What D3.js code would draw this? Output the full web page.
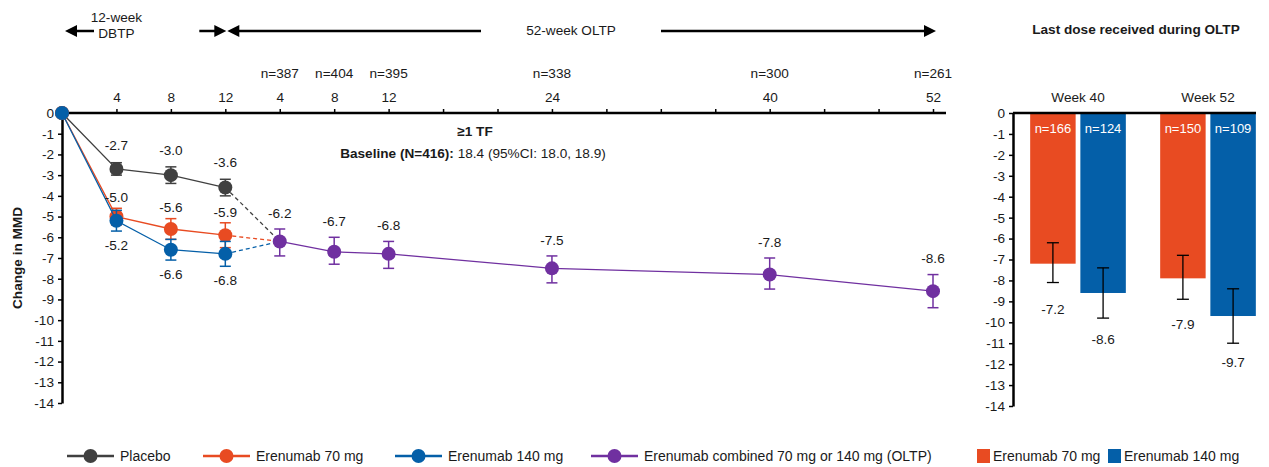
<!DOCTYPE html>
<html><head><meta charset="utf-8">
<script src="https://cdn.jsdelivr.net/npm/d3@7"></script>
<style>
body{margin:0;background:#fff;}
text{font-family:"Liberation Sans",Arial,sans-serif;fill:#1a1a1a;}
</style></head>
<body><svg id="c" width="1269" height="467"></svg>
<script>
// ---- data ----
const dbtpWeeks = [0, 4, 8, 12];
const placebo = [0, -2.7, -3.0, -3.6];
const placeboUpper = [null, -2.4, -2.6, -3.2];
const placeboLower = [null, -3.0, -3.4, -4.0];
const e70 = [0, -5.0, -5.6, -5.9];
const e70Upper = [null, -4.6, -5.1, -5.3];
const e70Lower = [null, -5.4, -6.1, -6.5];
const e140 = [0, -5.2, -6.6, -6.8];
const e140Upper = [null, -4.7, -6.1, -6.2];
const e140Lower = [null, -5.7, -7.1, -7.4];
const oltpWeeks = [4, 8, 12, 24, 40, 52];
const combined = [-6.2, -6.7, -6.8, -7.5, -7.8, -8.6];
const combinedUpper = [-5.6, -6.0, -6.2, -6.9, -7.0, -7.8];
const combinedLower = [-6.9, -7.3, -7.5, -8.2, -8.5, -9.4];
const oltpN = [387, 404, 395, 338, 300, 261];
const topTickWeeks = [4, 8, 12, 16, 20, 24, 36, 52, 64];
const topTickLabels = ["4", "8", "12", "4", "8", "12", "24", "40", "52"];
const yTicks = d3.range(0, -15, -1);

const barWeeks = ["Week 40", "Week 52"];
const barDoses = ["Erenumab 70 mg", "Erenumab 140 mg"];
const bar70 = [-7.2, -7.9];
const bar70Upper = [-6.2, -6.8];
const bar70Lower = [-8.1, -8.9];
const bar70N = [166, 150];
const bar140 = [-8.6, -9.7];
const bar140Upper = [-7.4, -8.4];
const bar140Lower = [-9.8, -11.0];
const bar140N = [124, 109];

const C = {placebo:"#404040", e70:"#E84B22", e140:"#045FA8", comb:"#7030A0"};
const FS = 13.6;
const LFS = 14;
const fmt1 = v => v.toFixed(1);
const fmt0 = v => String(v);

const svg = d3.select("#c");
const x = d3.scaleLinear().domain([0, 64]).range([62, 933]);
const y = d3.scaleLinear().domain([0, -14]).range([113, 403]);
const oltpX = w => x(12 + w);

// ---- header ----
const hdr = svg.append("g");
function arrowHead(g, xTip, yy, dir){
  g.append("path").attr("d", `M${xTip},${yy} L${xTip - dir*12},${yy-6} L${xTip - dir*12},${yy+6} Z`).attr("fill","#000");
}
const ay = 31;
hdr.append("line").attr("x1", x(0)+10).attr("x2", x(0)+32).attr("y1", ay).attr("y2", ay).attr("stroke","#000").attr("stroke-width",2.5);
arrowHead(hdr, x(0)+3, ay, -1);
hdr.append("line").attr("x1", x(12)-26).attr("x2", x(12)-8).attr("y1", ay).attr("y2", ay).attr("stroke","#000").attr("stroke-width",2.5);
arrowHead(hdr, x(12)+1, ay, 1);
hdr.append("line").attr("x1", x(12)+8).attr("x2", 481).attr("y1", ay).attr("y2", ay).attr("stroke","#000").attr("stroke-width",2.5);
arrowHead(hdr, x(12)+2, ay, -1);
hdr.append("line").attr("x1", 661).attr("x2", x(64)-5).attr("y1", ay).attr("y2", ay).attr("stroke","#000").attr("stroke-width",2.5);
arrowHead(hdr, x(64)+3, ay, 1);
hdr.append("text").attr("x", x(4)).attr("y", 22).attr("text-anchor","middle").attr("font-size",FS).text("12-week");
hdr.append("text").attr("x", x(4)).attr("y", 38).attr("text-anchor","middle").attr("font-size",FS).text("DBTP");
hdr.append("text").attr("x", 571).attr("y", 35).attr("text-anchor","middle").attr("font-size",FS).text("52-week OLTP");
hdr.append("text").attr("x", 1136).attr("y", 34).attr("text-anchor","middle").attr("font-size",FS).attr("font-weight","bold").text("Last dose received during OLTP");

// n labels
svg.append("g").selectAll("text").data(oltpWeeks).join("text")
  .attr("x", (d)=>oltpX(d)).attr("y", 78).attr("text-anchor","middle").attr("font-size",FS)
  .text((d,i)=>"n=" + oltpN[i]);

// ---- left axes ----
const xAxis = d3.axisTop(x).tickValues(d3.range(0, 65, 4)).tickSize(4).tickSizeOuter(0)
  .tickFormat(d => { const i = topTickWeeks.indexOf(d); return i >= 0 ? topTickLabels[i] : ""; });
const gx = svg.append("g").attr("transform", `translate(0,${y(0)})`).call(xAxis);
gx.select(".domain").remove();
gx.selectAll(".tick line").attr("stroke","#000").attr("stroke-width",1.5);
gx.selectAll(".tick text").attr("font-size",FS).attr("dy","-0.3em").attr("fill","#1a1a1a").attr("font-family","Liberation Sans, Arial, sans-serif");
svg.append("line").attr("x1", x(0)).attr("x2", x(64)+13).attr("y1", y(0)).attr("y2", y(0)).attr("stroke","#000").attr("stroke-width",2.5);

const yAxis = d3.axisLeft(y).tickValues(yTicks).tickSize(4).tickSizeOuter(0).tickFormat(fmt0);
const gy = svg.append("g").attr("transform", `translate(${x(0)},0)`).call(yAxis);
gy.select(".domain").attr("stroke","#000").attr("stroke-width",2.5);
gy.selectAll(".tick line").attr("stroke","#000").attr("stroke-width",1.5);
gy.selectAll(".tick text").attr("font-size",FS).attr("fill","#1a1a1a").attr("x",-8).attr("font-family","Liberation Sans, Arial, sans-serif");

svg.append("text").attr("transform", `translate(22,${(y(0)+y(-14))/2}) rotate(-90)`).attr("text-anchor","middle")
  .attr("font-size",FS).attr("font-weight","bold").text("Change in MMD");

// annotation
svg.append("text").attr("x", 475).attr("y", 136).attr("text-anchor","middle").attr("font-size",FS).attr("font-weight","bold").text("\u22651 TF");
const bt = svg.append("text").attr("x", 473).attr("y", 158).attr("text-anchor","middle").attr("font-size",FS);
bt.append("tspan").attr("font-weight","bold").text("Baseline (N=416):");
bt.append("tspan").text(" 18.4 (95%CI: 18.0, 18.9)");

// ---- series ----
const line = d3.line().x(d=>d[0]).y(d=>d[1]);
function series(xs, vals, up, lo, color){
  const g = svg.append("g");
  const pts = xs.map((xx,i)=>[xx, y(vals[i])]);
  g.append("path").attr("d", line(pts)).attr("fill","none").attr("stroke",color).attr("stroke-width",1.3);
  vals.forEach((v,i)=>{
    if (up[i] === null) return;
    const xx = xs[i];
    g.append("line").attr("x1",xx).attr("x2",xx).attr("y1",y(up[i])).attr("y2",y(lo[i])).attr("stroke",color).attr("stroke-width",1.5);
    [up[i], lo[i]].forEach(e=>g.append("line").attr("x1",xx-5.5).attr("x2",xx+5.5).attr("y1",y(e)).attr("y2",y(e)).attr("stroke",color).attr("stroke-width",1.5));
  });
  vals.forEach((v,i)=>{
    g.append("circle").attr("cx",xs[i]).attr("cy",y(v)).attr("r",7).attr("fill",color);
  });
  return g;
}
function labels(xs, vals, up, lo, pos, off){
  vals.forEach((v,i)=>{
    if (up[i] === null) return;
    const yy = pos === "above" ? y(up[i]) - off : y(lo[i]) + off;
    svg.append("text").attr("x", xs[i]).attr("y", yy).attr("dy","0.35em").attr("text-anchor","middle").attr("font-size",FS)
      .text(fmt1(v));
  });
}
const dbX = dbtpWeeks.map(w=>x(w));
const olX = oltpWeeks.map(oltpX);
[[placebo, C.placebo],[e70, C.e70],[e140, C.e140]].forEach(([s,c])=>{
  svg.append("line").attr("x1", x(12)).attr("y1", y(s[3])).attr("x2", olX[0]).attr("y2", y(combined[0]))
    .attr("stroke", c).attr("stroke-width",1.3).attr("stroke-dasharray","4,3");
});
series(dbX, placebo, placeboUpper, placeboLower, C.placebo);
series(dbX, e70, e70Upper, e70Lower, C.e70);
series(dbX, e140, e140Upper, e140Lower, C.e140);
series(olX, combined, combinedUpper, combinedLower, C.comb);
labels(dbX, placebo, placeboUpper, placeboLower, "above", 17);
labels(dbX, e70, e70Upper, e70Lower, "above", 11);
labels(dbX, e140, e140Upper, e140Lower, "below", 14);
labels(olX, combined, combinedUpper, combinedLower, "above", 16);

// ---- bar panel ----
const yR = d3.scaleLinear().domain([0, -14]).range([113, 406]);
const x0 = d3.scaleBand().domain(barWeeks).range([1013, 1273]).paddingInner(0).paddingOuter(0);
const x1 = d3.scaleBand().domain(barDoses).range([0, x0.bandwidth()]).paddingInner(0.094).paddingOuter(0.342);
const barData = [];
barWeeks.forEach((w,i)=>{
  barData.push({w, dose:barDoses[0], v:bar70[i], up:bar70Upper[i], lo:bar70Lower[i], n:bar70N[i], c:C.e70});
  barData.push({w, dose:barDoses[1], v:bar140[i], up:bar140Upper[i], lo:bar140Lower[i], n:bar140N[i], c:C.e140});
});
const bg = svg.append("g");
bg.selectAll("rect").data(barData).join("rect")
  .attr("x", d=>x0(d.w)+x1(d.dose)).attr("width", x1.bandwidth())
  .attr("y", yR(0)).attr("height", d=>yR(d.v)-yR(0)).attr("fill", d=>d.c);
barData.forEach(d=>{
  const cx = x0(d.w)+x1(d.dose)+x1.bandwidth()/2;
  bg.append("line").attr("x1",cx).attr("x2",cx).attr("y1",yR(d.up)).attr("y2",yR(d.lo)).attr("stroke","#000").attr("stroke-width",1.3);
  [d.up,d.lo].forEach(e=>bg.append("line").attr("x1",cx-6).attr("x2",cx+6).attr("y1",yR(e)).attr("y2",yR(e)).attr("stroke","#000").attr("stroke-width",1.3));
  bg.append("text").attr("x",cx).attr("y",yR(0)+15).attr("dy","0.35em").attr("text-anchor","middle").attr("font-size",13).style("fill","#fff").text("n="+d.n);
  bg.append("text").attr("x",cx).attr("y",yR(d.v)+46).attr("dy","0.35em").attr("text-anchor","middle").attr("font-size",FS).text(fmt1(d.v));
});
const yRAxis = d3.axisLeft(yR).tickValues(yTicks).tickSize(4).tickSizeOuter(0).tickFormat(fmt0);
const gyr = svg.append("g").attr("transform", `translate(1013,0)`).call(yRAxis);
gyr.select(".domain").attr("stroke","#000").attr("stroke-width",2.5);
gyr.selectAll(".tick line").attr("stroke","#000").attr("stroke-width",1.5);
gyr.selectAll(".tick text").attr("font-size",FS).attr("fill","#1a1a1a").attr("x",-8).attr("font-family","Liberation Sans, Arial, sans-serif");
svg.append("line").attr("x1",1013).attr("x2",1256).attr("y1",yR(0)).attr("y2",yR(0)).attr("stroke","#000").attr("stroke-width",2.5);
svg.append("g").selectAll("text").data(barWeeks).join("text")
  .attr("x", d=>x0(d)+x0.bandwidth()/2).attr("y", 102).attr("text-anchor","middle").attr("font-size",FS).text(d=>d);

// ---- legend ----
const legItems = [
  {label:"Placebo", c:C.placebo, x:67},
  {label:"Erenumab 70 mg", c:C.e70, x:203},
  {label:"Erenumab 140 mg", c:C.e140, x:395},
  {label:"Erenumab combined 70 mg or 140 mg (OLTP)", c:C.comb, x:591}
];
const ly = 456;
const lg = svg.append("g");
legItems.forEach(it=>{
  lg.append("line").attr("x1",it.x).attr("x2",it.x+47).attr("y1",ly).attr("y2",ly).attr("stroke",it.c).attr("stroke-width",2.5);
  lg.append("circle").attr("cx",it.x+23.5).attr("cy",ly).attr("r",7).attr("fill",it.c);
  lg.append("text").attr("x",it.x+53).attr("y",ly).attr("dy","0.35em").attr("font-size",LFS).text(it.label);
});
const barLeg = [{label:"Erenumab 70 mg", c:C.e70, x:977},{label:"Erenumab 140 mg", c:C.e140, x:1108}];
barLeg.forEach(it=>{
  lg.append("rect").attr("x",it.x).attr("y",ly-7).attr("width",13).attr("height",14).attr("fill",it.c);
  lg.append("text").attr("x",it.x+16).attr("y",ly).attr("dy","0.35em").attr("font-size",LFS).text(it.label);
});
</script></body></html>
